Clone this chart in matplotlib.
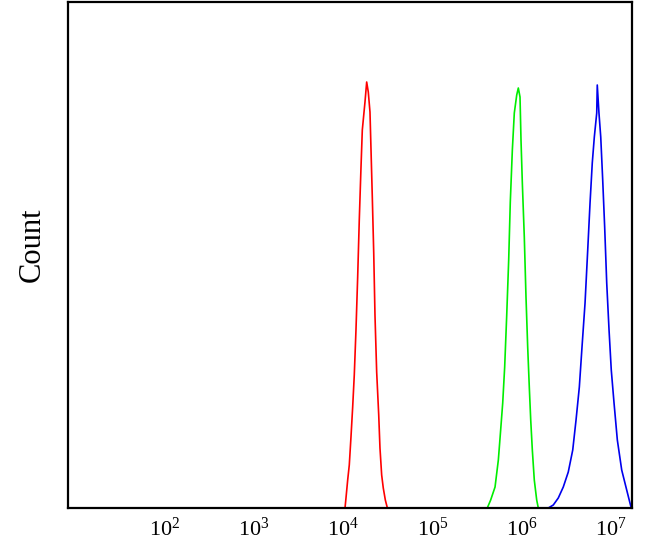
import numpy as np
import matplotlib
matplotlib.use("Agg")
import matplotlib.pyplot as plt

plt.rcParams['mathtext.fontset'] = 'custom'
plt.rcParams['mathtext.rm'] = 'Liberation Serif'
plt.rcParams['font.family'] = ['Liberation Serif', 'DejaVu Serif']

# log10 fluorescence positions and counts
red_log = [4.018, 4.029, 4.048, 4.066, 4.085, 4.104, 4.122, 4.141, 4.160, 4.178, 4.197, 4.212,
           4.242, 4.261, 4.279, 4.298, 4.309, 4.324, 4.340, 4.354, 4.373, 4.396, 4.410, 4.429,
           4.447, 4.470, 4.493]
red_cnt = [0, 10, 28, 43, 71, 101, 133, 178, 231, 288, 340, 378,
           406, 426, 416, 396, 360, 311, 255, 193, 136, 93, 60, 33,
           20, 8, 0]

green_log = [5.613, 5.651, 5.700, 5.737, 5.763, 5.786, 5.808, 5.831, 5.853, 5.871, 5.894, 5.916,
             5.943, 5.961, 5.980, 5.991, 6.006, 6.028, 6.047, 6.066, 6.084, 6.100, 6.118, 6.140,
             6.167, 6.185]
green_cnt = [0, 8, 21, 48, 78, 105, 141, 193, 248, 306, 358, 395,
             413, 420, 411, 368, 325, 271, 211, 161, 121, 88, 58, 28,
             8, 0]

blue_log = [6.260, 6.297, 6.353, 6.409, 6.465, 6.521, 6.571, 6.608, 6.645, 6.675, 6.709, 6.739,
            6.765, 6.790, 6.813, 6.840, 6.846, 6.865, 6.885, 6.907, 6.929, 6.952, 6.978, 7.003,
            7.034, 7.071, 7.120, 7.176, 7.224]
blue_cnt = [0, 0, 3, 10, 21, 36, 58, 88, 121, 161, 205, 258,
            305, 345, 371, 395, 423, 395, 371, 328, 281, 225, 178, 138,
            105, 68, 38, 18, 1]

tick_exp = [2, 3, 4, 5, 6, 7]
x_range_log = (0.9126, 7.2354)

fig = plt.figure(figsize=(6.49, 5.52), dpi=100)
ax = fig.add_axes([68/649, 44/552, 564/649, 506/552])

for lg, cnt, col in [(red_log, red_cnt, '#ff0000'),
                     (green_log, green_cnt, '#00ee00'),
                     (blue_log, blue_cnt, '#0000ee')]:
    ax.plot(10 ** np.array(lg), cnt, color=col, lw=1.2)

ax.set_xscale('log')
ax.set_xlim(10 ** x_range_log[0], 10 ** x_range_log[1])
ax.set_ylim(0, 506)
ax.set_xticks([10.0 ** e for e in tick_exp])
ax.set_xticklabels([r'$\mathregular{10^{%d}}$' % e for e in tick_exp], fontsize=16)
ax.xaxis.set_minor_locator(matplotlib.ticker.NullLocator())
ax.set_yticks([])
ax.tick_params(axis='x', length=0, pad=7)
for s in ax.spines.values():
    s.set_linewidth(1.6)
    s.set_color('black')
ax.set_ylabel('Count', fontsize=22)
ax.yaxis.set_label_coords(-0.038, 0.52)

fig.savefig('out.png', dpi=100)
